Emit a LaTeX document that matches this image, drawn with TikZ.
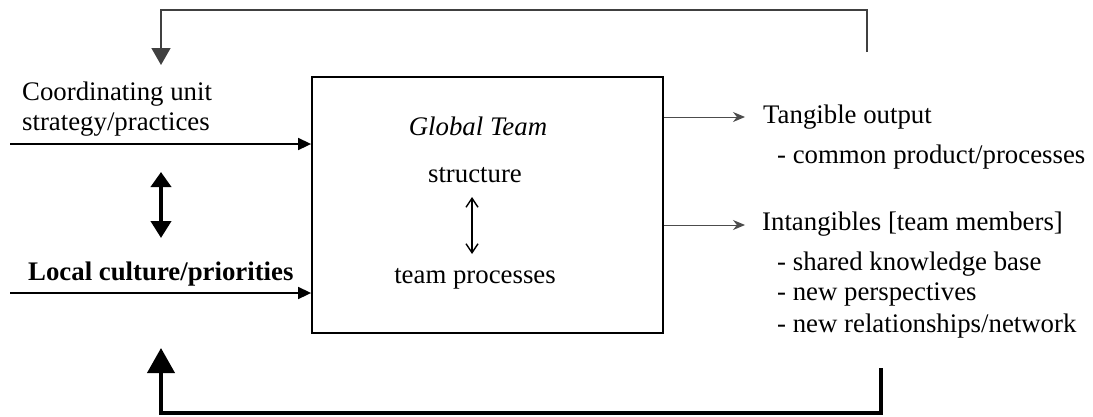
\documentclass[tikz,border=0pt]{standalone}
\usepackage{fontspec}
\setmainfont{Liberation Serif}
\usetikzlibrary{arrows.meta,positioning,calc}

\begin{document}
\begin{tikzpicture}[
  x=1pt, y=-1pt,
  txt/.style={inner sep=0pt, font=\fontsize{26.8}{32}\selectfont},
  teambox/.style={draw, line width=1.8pt, minimum width=351pt, minimum height=256pt, inner sep=0pt},
  inarr/.style={-{Triangle[length=13pt,width=12pt]}, line width=1.6pt},
  outarr/.style={-{Stealth[length=12pt,width=10pt]}, line width=1pt, black!70},
  fbtop/.style={-{Triangle[length=17pt,width=19pt]}, line width=1.6pt, black!75},
  fbbot/.style={-{Triangle[length=25pt,width=27pt]}, line width=4pt},
  link/.style={{Triangle[length=15pt,width=20pt]}-{Triangle[length=17pt,width=20pt]}, line width=4pt},
  inner/.style={{Straight Barb[length=9pt,width=12pt]}-{Straight Barb[length=9pt,width=12pt]}, line width=1.4pt}
]
  \useasboundingbox (0,0) rectangle (1093,416);

  % central box
  \node[teambox] (team) at (487.5,205) {};
  \node[txt, anchor=base] (gt) at (478,135) {\textit{Global Team}};
  \node[txt, anchor=base] (struct) at (475,182) {structure};
  \node[txt, anchor=base] (proc) at (475,283) {team processes};
  \draw[inner] (472,197) -- (472,254);

  % inputs
  \node[txt, anchor=base west] (coord) at (22,100) {Coordinating unit};
  \node[txt, anchor=base west] (strat) at (22,130) {strategy/practices};
  \node[txt, anchor=base west] (local) at (28,280) {\textbf{Local culture/priorities}};
  \coordinate (inA) at (10,144);
  \coordinate (inB) at (10,293);
  \draw[inarr] (inA) -- (inA -| team.west);
  \draw[inarr] (inB) -- (inB -| team.west);
  \draw[link] (161,172) -- (161,238);

  % outputs
  \node[txt, anchor=base west] (tang) at (763,123) {Tangible output};
  \node[txt, anchor=base west] (tang1) at (777,163) {- common product/processes};
  \node[txt, anchor=base west] (intang) at (762,230) {Intangibles [team members]};
  \node[txt, anchor=base west] (int1) at (777,270) {- shared knowledge base};
  \node[txt, anchor=base west] (int2) at (777,300) {- new perspectives};
  \node[txt, anchor=base west] (int3) at (777,332) {- new relationships/network};
  \coordinate (outA) at (745,117);
  \coordinate (outB) at (745,225);
  \draw[outarr] (outA -| team.east) -- (outA);
  \draw[outarr] (outB -| team.east) -- (outB);

  % feedback loops
  \coordinate (topR) at (867,52);
  \coordinate (topL) at (161,65);
  \draw[fbtop] (topR) |- (161,10) -- (topL);
  \coordinate (botR) at (881,368);
  \coordinate (botL) at (161,348);
  \draw[fbbot] (botR) |- (161,413) -- (botL);
\end{tikzpicture}
\end{document}
